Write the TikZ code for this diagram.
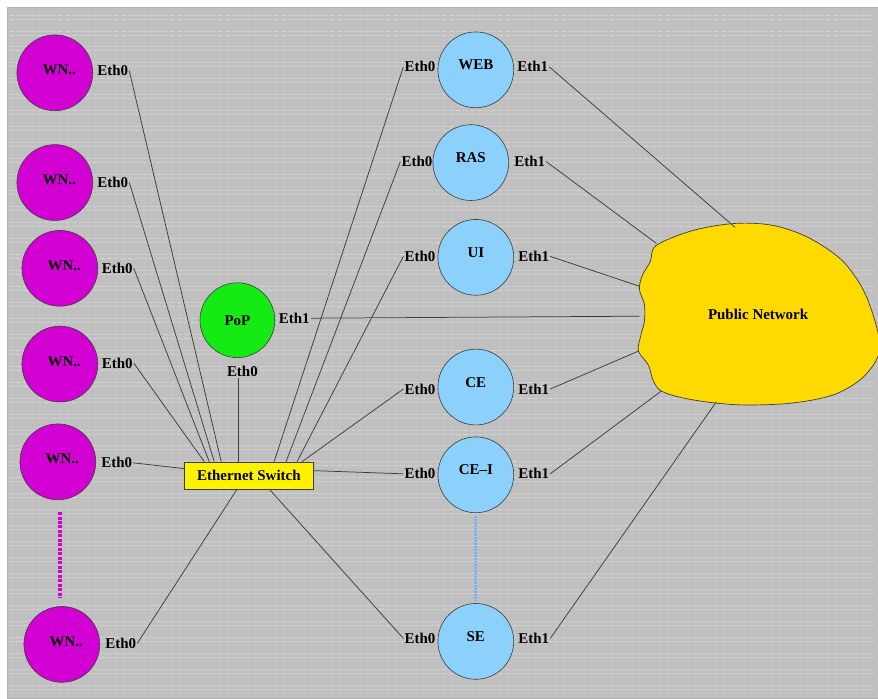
\documentclass[tikz,border=0pt]{standalone}
\usepackage{fontspec}
\setmainfont{Liberation Serif}

\definecolor{bggray}{RGB}{192,192,192}
\definecolor{wnmag}{RGB}{210,0,210}
\definecolor{popgreen}{RGB}{20,235,20}
\definecolor{srvblue}{RGB}{140,208,252}
\definecolor{cloudgold}{RGB}{255,218,0}
\definecolor{wire}{RGB}{60,60,60}

\begin{document}
\begin{tikzpicture}[x=1pt, y=-1pt,
  every node/.style={font=\bfseries\fontsize{15}{18}\selectfont},
  host/.style={circle, draw=wire, line width=0.6pt, minimum size=76pt, inner sep=0pt,
    text height=14pt, text depth=14pt},
  wnode/.style={host, fill=wnmag, text height=16pt, text depth=12pt,
    execute at begin node={\hspace*{9pt}}},
  srv/.style={host, fill=srvblue},
  eth/.style={inner sep=1pt},
  link/.style={draw=wire, line width=0.75pt}]
  % background with faint dashed rules
  \fill[white] (0,0) rectangle (878,697);
  \draw[fill=bggray, draw=gray!60] (7,7) rectangle (880,700);
  \foreach \y in {15,31,...,695} {
    \draw[white, opacity=0.3, line width=0.8pt, dash pattern=on 5pt off 2pt] (9,\y) -- (878,\y);
    \draw[white, opacity=0.3, line width=0.8pt, dash pattern=on 5pt off 2pt] (9,\y+4) -- (878,\y+4);
  }
  \useasboundingbox (0,0) rectangle (878,697);

  % public network cloud
  \draw[fill=cloudgold, draw=wire, line width=0.7pt] plot[smooth cycle, tension=0.55] coordinates {
    (658,246) (695,231) (737,224) (775,226) (810,238) (843,260) (864,288) (876,318)
    (882,345) (878,362) (862,381) (835,396) (795,404) (750,406) (717,404) (685,399)
    (663,392) (655,382) (650,366) (640,352) (642,338) (646,322) (646,305) (641,290)
    (644,276) (652,262)};
  \node (pn) at (760,315) {Public Network};
  \coordinate (pnweb) at (737,228);
  \coordinate (pnras) at (658,244);
  \coordinate (pnui) at (641,287);
  \coordinate (pnpop) at (641,317);
  \coordinate (pnce) at (640,352);
  \coordinate (pncei) at (663,392);
  \coordinate (pnse) at (718,403);

  % worker nodes
  \node[wnode] (wn1) at (55,73) {WN..};
  \node[wnode] (wn2) at (55,183) {WN..};
  \node[wnode] (wn3) at (60,269) {WN..};
  \node[wnode] (wn4) at (60,365) {WN..};
  \node[wnode] (wn5) at (58,463) {WN..};
  \node[wnode] (wn6) at (62,646) {WN..};
  \node[eth] (wn1e0) at (113,71) {Eth0};
  \node[eth] (wn2e0) at (113,183) {Eth0};
  \node[eth] (wn3e0) at (117.5,269) {Eth0};
  \node[eth] (wn4e0) at (117.5,364) {Eth0};
  \node[eth] (wn5e0) at (117,464) {Eth0};
  \node[eth] (wn6e0) at (121,645) {Eth0};

  % PoP and switch
  \node[circle, draw=wire, line width=0.6pt, fill=popgreen, minimum size=75pt, inner sep=0pt] (pop) at (238,321) {PoP};
  \node[eth] (pope1) at (295,319) {Eth1};
  \node[eth] (pope0) at (243,372) {Eth0};
  \node[draw=wire, fill=yellow, minimum width=129pt, minimum height=27pt, inner sep=0pt] (sw) at (249.5,476.5) {Ethernet Switch};

  % service nodes
  \node[srv] (web) at (477,70) {WEB};
  \node[srv] (ras) at (472,163) {RAS};
  \node[srv] (ui) at (477,258) {UI};
  \node[srv] (ce) at (477,388) {CE};
  \node[srv] (cei) at (477,476) {CE--I};
  \node[srv] (se) at (477,643) {SE};
  \node[eth] (webe0) at (421,67) {Eth0};
  \node[eth] (webe1) at (534,67) {Eth1};
  \node[eth] (rase0) at (418,162) {Eth0};
  \node[eth] (rase1) at (531,162) {Eth1};
  \node[eth] (uie0) at (421,257) {Eth0};
  \node[eth] (uie1) at (535,257) {Eth1};
  \node[eth] (cee0) at (421,390) {Eth0};
  \node[eth] (cee1) at (535,390) {Eth1};
  \node[eth] (ceie0) at (421,475) {Eth0};
  \node[eth] (ceie1) at (535,475) {Eth1};
  \node[eth] (see0) at (421,640) {Eth0};
  \node[eth] (see1) at (535,640) {Eth1};

  % links to the switch
  \draw[link] (wn1e0.east) -- ([xshift=37pt]sw.north west);
  \draw[link] (wn2e0.east) -- ([xshift=30pt]sw.north west);
  \draw[link] (wn3e0.east) -- ([xshift=25pt]sw.north west);
  \draw[link] (wn4e0.east) -- ([xshift=20pt]sw.north west);
  \draw[link] (wn5e0.east) -- ([yshift=-7pt]sw.north west);
  \draw[link] (wn6e0.east) -- ([xshift=53pt]sw.south west);
  \draw[link] ([xshift=54pt]sw.north west) -- ([xshift=54pt]sw.north west |- pope0.south);
  \draw[link] (webe0.west) -- ([xshift=90pt]sw.north west);
  \draw[link] (rase0.west) -- ([xshift=102pt]sw.north west);
  \draw[link] (uie0.west) -- ([xshift=113pt]sw.north west);
  \draw[link] (cee0.west) -- ([xshift=118pt]sw.north west);
  \draw[link] (ceie0.west) -- ([yshift=-9pt]sw.north east);
  \draw[link] (see0.west) -- ([xshift=85pt]sw.south west);

  % links to the public network
  \draw[link] (pope1.east) -- (pnpop);
  \draw[link] (webe1.east) -- (pnweb);
  \draw[link] (rase1.east) -- (pnras);
  \draw[link] (uie1.east) -- (pnui);
  \draw[link] (cee1.east) -- (pnce);
  \draw[link] (ceie1.east) -- (pncei);
  \draw[link] (see1.east) -- (pnse);

  % more nodes in between
  \draw[wnmag, line width=3.5pt, dash pattern=on 3pt off 1.5pt, shorten <=12pt, shorten >=8pt]
    ([xshift=-2pt]wn6.north |- wn5.south) -- ([xshift=-2pt]wn6.north);
  \draw[srvblue!85!blue, line width=3pt, dash pattern=on 2pt off 1pt, shorten <=3pt, shorten >=2pt] (cei.south) -- (se.north);
\end{tikzpicture}
\end{document}
